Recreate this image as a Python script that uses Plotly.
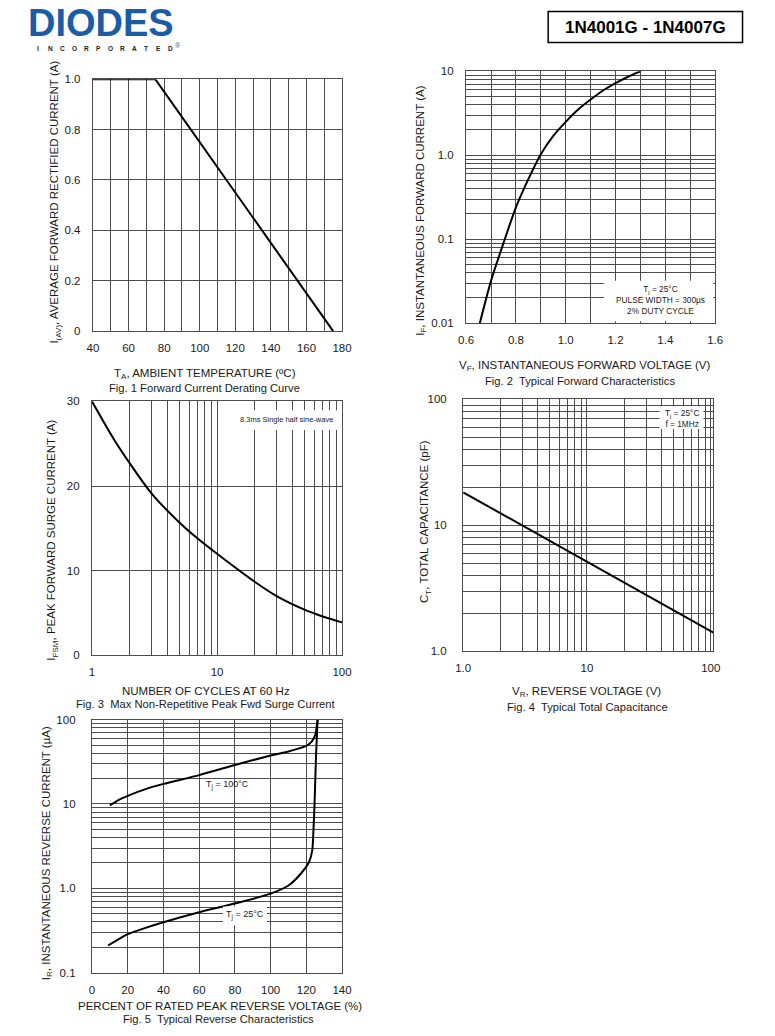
import plotly.graph_objects as go

W, H = 775, 1036
FONT = "Liberation Sans, Arial, sans-serif"
GRID = "#4d4d4d"
INK = "#1a1a1a"

# ---------------- data ----------------
# Fig. 1 Forward current derating
f1_temp = [40, 75, 175]
f1_current = [1.0, 1.0, 0.0]
f1_xticks = [40, 50, 60, 70, 80, 90, 100, 110, 120, 130, 140, 150, 160, 170, 180]
f1_xlabels = ["40", "", "60", "", "80", "", "100", "", "120", "", "140", "", "160", "", "180"]
f1_yticks = [0, 0.2, 0.4, 0.6, 0.8, 1.0]
f1_ylabels = ["0", "0.2", "0.4", "0.6", "0.8", "1.0"]

# Fig. 2 Typical forward characteristics
f2_vf = [0.655, 0.70, 0.75, 0.80, 0.85, 0.90, 0.95, 1.00, 1.05, 1.10, 1.15, 1.20, 1.25, 1.30]
f2_if = [0.01, 0.032, 0.09, 0.24, 0.52, 1.03, 1.7, 2.5, 3.5, 4.6, 5.9, 7.2, 8.6, 10.0]
f2_xticks = [0.6, 0.7, 0.8, 0.9, 1.0, 1.1, 1.2, 1.3, 1.4, 1.5, 1.6]
f2_xlabels = ["0.6", "", "0.8", "", "1.0", "", "1.2", "", "1.4", "", "1.6"]
f2_yticks = [0.01, 0.02, 0.03, 0.04, 0.05, 0.06, 0.07, 0.08, 0.09,
             0.1, 0.2, 0.3, 0.4, 0.5, 0.6, 0.7, 0.8, 0.9,
             1, 2, 3, 4, 5, 6, 7, 8, 9, 10]
f2_ylabels = ["0.01"] + [""] * 8 + ["0.1"] + [""] * 8 + ["1.0"] + [""] * 8 + ["10"]

# Fig. 3 Max non-repetitive peak forward surge current
f3_cycles = [1, 1.5, 2, 3, 5, 7, 10, 20, 30, 50, 70, 100]
f3_ifsm = [30.0, 25.5, 22.7, 19.1, 15.7, 13.8, 12.0, 8.7, 7.0, 5.4, 4.6, 3.9]
f3_xticks = [1, 2, 3, 4, 5, 6, 7, 8, 9, 10, 20, 30, 40, 50, 60, 70, 80, 90, 100]
f3_xlabels = ["1"] + [""] * 8 + ["10"] + [""] * 8 + ["100"]
f3_yticks = [0, 10, 20, 30]
f3_ylabels = ["0", "10", "20", "30"]

# Fig. 4 Typical total capacitance
f4_vr = [1.0, 105.0]
f4_ct = [18.3, 1.41]
f4_xticks = [1, 2, 3, 4, 5, 6, 7, 8, 9, 10, 20, 30, 40, 50, 60, 70, 80, 90, 100]
f4_xlabels = ["1.0"] + [""] * 8 + ["10"] + [""] * 8 + ["100"]
f4_yticks = [1, 2, 3, 4, 5, 6, 7, 8, 9, 10, 20, 30, 40, 50, 60, 70, 80, 90, 100]
f4_ylabels = ["1.0"] + [""] * 8 + ["10"] + [""] * 8 + ["100"]

# Fig. 5 Typical reverse characteristics
f5_pct_100 = [10, 15, 20, 30, 40, 60, 80, 100, 110, 115, 120, 123, 125, 126.3]
f5_ir_100 = [9.6, 11.2, 12.5, 15.0, 17.3, 22.0, 29.0, 37.5, 42.0, 45.0, 49.0, 55.0, 66.0, 100.0]
f5_pct_25 = [9, 15, 20, 30, 40, 60, 80, 100, 110, 117, 121.5, 123.3, 124.0, 124.6, 125.4, 126.3]
f5_ir_25 = [0.21, 0.25, 0.286, 0.34, 0.396, 0.52, 0.66, 0.866, 1.08, 1.5, 2.05, 2.8, 5.0, 10.0, 36.0, 100.0]
f5_xticks = [0, 20, 40, 60, 80, 100, 120, 140]
f5_xlabels = ["0", "20", "40", "60", "80", "100", "120", "140"]
f5_yticks = [0.1, 0.2, 0.3, 0.4, 0.5, 0.6, 0.7, 0.8, 0.9,
             1, 2, 3, 4, 5, 6, 7, 8, 9,
             10, 20, 30, 40, 50, 60, 70, 80, 90, 100]
f5_ylabels = ["0.1"] + [""] * 8 + ["1.0"] + [""] * 8 + ["10"] + [""] * 8 + ["100"]

# ---------------- layout helpers ----------------
def xdom(x0, x1):
    return [x0 / W, x1 / W]

def ydom(y0, y1):
    return [1 - y1 / H, 1 - y0 / H]

def px(x):
    return x / W

def py(y):
    return 1 - y / H

def axis(dom, tickvals, ticktext, rng, typ="linear", standoff=6, anchor=None):
    return dict(
        domain=dom, type=typ, range=rng, anchor=anchor,
        tickmode="array", tickvals=tickvals, ticktext=ticktext,
        showgrid=True, gridcolor=GRID, gridwidth=1.3,
        showline=True, mirror=True, linecolor=GRID, linewidth=1.3,
        zeroline=False, ticks="", ticklabelstandoff=standoff,
        tickfont=dict(family=FONT, size=11.5, color=INK),
        fixedrange=True,
    )

fig = go.Figure()

line = dict(color="black", width=2)
fig.add_trace(go.Scatter(x=f1_temp, y=f1_current, mode="lines", line=line,
                         xaxis="x", yaxis="y", showlegend=False))
fig.add_trace(go.Scatter(x=f2_vf, y=f2_if, mode="lines", line=dict(line, shape="spline", smoothing=0.8),
                         xaxis="x2", yaxis="y2", showlegend=False))
fig.add_trace(go.Scatter(x=f3_cycles, y=f3_ifsm, mode="lines", line=dict(line, shape="spline", smoothing=0.8),
                         xaxis="x3", yaxis="y3", showlegend=False))
fig.add_trace(go.Scatter(x=f4_vr, y=f4_ct, mode="lines", line=line,
                         xaxis="x4", yaxis="y4", showlegend=False))
fig.add_trace(go.Scatter(x=f5_pct_100, y=f5_ir_100, mode="lines", line=dict(line, shape="spline", smoothing=0.6),
                         xaxis="x5", yaxis="y5", showlegend=False))
fig.add_trace(go.Scatter(x=f5_pct_25, y=f5_ir_25, mode="lines", line=dict(line, shape="spline", smoothing=0.6),
                         xaxis="x5", yaxis="y5", showlegend=False))

layout = dict(
    width=W, height=H, margin=dict(l=0, r=0, t=0, b=0),
    paper_bgcolor="white", plot_bgcolor="white",
    font=dict(family=FONT, color=INK),
    xaxis=axis(xdom(87, 342), f1_xticks, f1_xlabels, [40, 180], anchor="y"),
    yaxis=axis(ydom(74, 329), f1_yticks, f1_ylabels, [0, 1.0], standoff=9, anchor="x"),
    xaxis2=axis(xdom(469, 724), f2_xticks, f2_xlabels, [0.6, 1.6], anchor="y2"),
    yaxis2=axis(ydom(66, 321), f2_yticks, f2_ylabels, [-2, 1], typ="log", standoff=9, anchor="x2"),
    xaxis3=axis(xdom(86, 342), f3_xticks, f3_xlabels, [0, 2], typ="log", anchor="y3"),
    yaxis3=axis(ydom(400, 657), f3_yticks, f3_ylabels, [0, 30], standoff=9, anchor="x3"),
    xaxis4=axis(xdom(466, 722), f4_xticks, f4_xlabels, [0, 2.02], typ="log", anchor="y4"),
    yaxis4=axis(ydom(398, 653), f4_yticks, f4_ylabels, [0, 2], typ="log", standoff=13, anchor="x4"),
    xaxis5=axis(xdom(86, 342), f5_xticks, f5_xlabels, [0, 140], anchor="y5"),
    yaxis5=axis(ydom(722, 978), f5_yticks, f5_ylabels, [-1, 2], typ="log", standoff=13, anchor="x5"),
)
fig.update_layout(**layout)

anns = []
shapes = []

def ann(x, y, text, size=11.5, angle=0, color=INK, xanchor="center", yanchor="middle"):
    anns.append(dict(x=px(x), y=py(y), xref="paper", yref="paper", text=text, showarrow=False,
                     xanchor=xanchor, yanchor=yanchor, textangle=angle,
                     font=dict(family=FONT, size=size, color=color)))

def whitebox(x0, y0, x1, y1):
    shapes.append(dict(type="rect", xref="paper", yref="paper", layer="above",
                       x0=px(x0), x1=px(x1), y0=py(y1), y1=py(y0),
                       fillcolor="white", line=dict(width=0)))

# header: logo
BLUE = "#1b5ca6"
ann(95, 40, "<b>DIODES</b>", size=38, color=BLUE, yanchor="bottom")
shapes.append(dict(type="line", xref="paper", yref="paper", layer="above",
                   x0=px(30), x1=px(166), y0=py(23.5), y1=py(23.5),
                   line=dict(color="white", width=1.6)))
for i, ch in enumerate("INCORPORATED"):
    ann(31 + i * 12.3, 43.5, "<b>" + ch + "</b>", size=6.5, color="#222")
ann(174, 39.5, "®", size=7, color=BLUE)

# header: part-number box
shapes.append(dict(type="rect", xref="paper", yref="paper",
                   x0=px(553), x1=px(752), y0=py(37), y1=py(5.5),
                   line=dict(color="black", width=1.5), fillcolor="white", layer="below"))
ann(652.5, 21.5, "<b>1N4001G - 1N4007G</b>", size=17, color="black")

CAP = 11.2
# Fig 1 texts
ann(48, 198, "I<sub>(AV)</sub>, AVERAGE FORWARD RECTIFIED CURRENT (A)", angle=-90)
ann(202, 372, "T<sub>A</sub>, AMBIENT TEMPERATURE (ºC)")
ann(201, 386, "Fig. 1 Forward Current Derating Curve", size=CAP)

# Fig 2 texts
ann(422, 207, "I<sub>F</sub>, INSTANTANEOUS FORWARD CURRENT (A)", angle=-90)
ann(591, 364, "V<sub>F</sub>, INSTANTANEOUS FORWARD VOLTAGE (V)")
ann(586, 379, "Fig. 2  Typical Forward Characteristics", size=CAP)
whitebox(610, 278, 722, 319)
ann(668, 297, "T<sub>j</sub> = 25°C<br>PULSE WIDTH = 300µs<br>2% DUTY CYCLE", size=8.3)

# Fig 3 texts
ann(45, 540, "I<sub>FSM</sub>, PEAK FORWARD SURGE CURRENT (A)", angle=-90)
ann(203, 693, "NUMBER OF CYCLES AT 60 Hz")
ann(203, 706, "Fig. 3  Max Non-Repetitive Peak Fwd Surge Current", size=CAP)
whitebox(238, 409, 340, 429)
ann(285, 418, "8.3ms Single half sine-wave", size=7.5)

# Fig 4 texts
ann(427, 522, "C<sub>T</sub>, TOTAL CAPACITANCE (pF)", angle=-90)
ann(592, 694, "V<sub>R</sub>, REVERSE VOLTAGE (V)")
ann(593, 709, "Fig. 4  Typical Total Capacitance", size=CAP)
whitebox(667, 405, 712, 428)
ann(690, 417, "T<sub>j</sub> = 25°C<br>f = 1MHz", size=8.3)

# Fig 5 texts
ann(40, 857, "I<sub>R</sub>, INSTANTANEOUS REVERSE CURRENT (µA)", angle=-90)
ann(217, 1012, "PERCENT OF RATED PEAK REVERSE VOLTAGE (%)")
ann(216, 1025, "Fig. 5  Typical Reverse Characteristics", size=CAP)
ann(225, 788, "T<sub>j</sub> = 100°C", size=9)
whitebox(220, 911, 265, 930)
ann(243, 920, "T<sub>j</sub> = 25°C", size=9)

fig.update_layout(annotations=anns, shapes=shapes)
fig.write_html("out.html", config={"responsive": False, "displayModeBar": False},
               post_script="document.body.style.margin='0px';document.body.style.padding='0px';")
